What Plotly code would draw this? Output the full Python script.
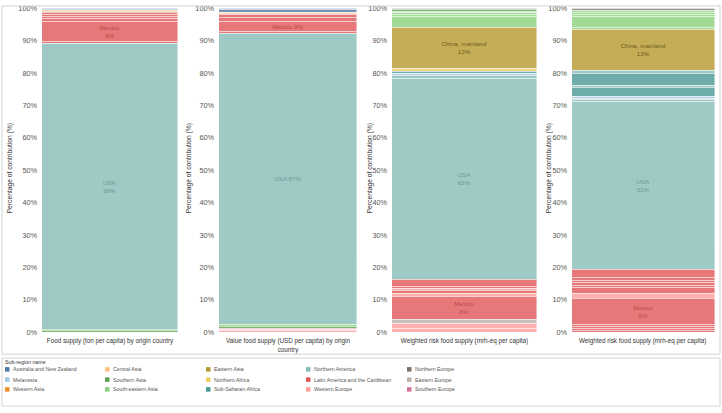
import plotly.graph_objects as go

W, H = 722, 413

# ---------------- data ----------------
regions = [
    "Australia and New Zealand", "Central Asia", "Eastern Asia", "Northern America", "Northern Europe",
    "Melanesia", "Southern Asia", "Northern Africa", "Latin America and the Caribbean", "Eastern Europe",
    "Western Asia", "South-eastern Asia", "Sub-Saharan Africa", "Western Europe", "Southern Europe",
]
region_colors = [
    "#4E79A7", "#FFBE7D", "#B6992D", "#86BCB6", "#79706E",
    "#A0CBE8", "#59A14F", "#F1CE63", "#E15759", "#BAB0AC",
    "#F28E2B", "#8CD17D", "#499894", "#FF9D9A", "#D37295",
]
label_colors = {
    "Northern America": "#6A9C97",
    "Latin America and the Caribbean": "#B9484A",
    "Eastern Asia": "#6E5C1C",
}

panel_titles = [
    "Food supply (ton per capita) by origin country",
    "Value food supply (USD per capita) by origin<br>country",
    "Weighted risk food supply (mrh-eq per capita)",
    "Weighted risk food supply (mrh-eq per capita) ",
]
y_ticks = list(range(0, 101, 10))
y_tick_text = [f"{t}%" for t in y_ticks]

# panel 1 (bottom -> top)
p1_countries = ["India", "Pakistan", "USA", "Guatemala", "Mexico", "Chile", "Peru", "Costa Rica",
                "Honduras", "China, mainland", "Turkey", "Australia", "New Zealand"]
p1_regions = ["Southern Asia", "Southern Asia", "Northern America", "Latin America and the Caribbean",
              "Latin America and the Caribbean", "Latin America and the Caribbean",
              "Latin America and the Caribbean", "Latin America and the Caribbean",
              "Latin America and the Caribbean", "Eastern Asia", "Western Asia",
              "Australia and New Zealand", "Australia and New Zealand"]
p1_values = [0.5, 0.4, 88.4, 0.4, 6.4, 0.8, 0.7, 0.6, 0.5, 0.4, 0.3, 0.3, 0.3]
p1_labels = {"USA": 88, "Mexico": 9}

# panel 2
p2_countries = ["Netherlands", "Spain", "Italy", "India", "Thailand", "USA", "Guatemala", "Mexico",
                "Chile", "Peru", "Turkey", "Uzbekistan", "Australia", "New Zealand"]
p2_regions = ["Western Europe", "Western Europe", "Southern Europe", "Southern Asia", "South-eastern Asia",
              "Northern America", "Latin America and the Caribbean", "Latin America and the Caribbean",
              "Latin America and the Caribbean", "Latin America and the Caribbean", "Western Asia",
              "Central Asia", "Australia and New Zealand", "Australia and New Zealand"]
p2_values = [0.6, 0.4, 0.3, 0.5, 0.6, 89.8, 0.6, 3.3, 1.0, 0.9, 0.5, 0.3, 0.9, 0.3]
p2_labels = {"USA": 87, "Mexico": 3}

# panel 3
p3_countries = ["Netherlands", "France", "Poland", "Mexico", "Belgium", "Peru", "Germany", "Ecuador",
                "Chile", "USA", "Canada", "Fiji", "South Africa", "Morocco", "China, mainland",
                "Viet Nam", "Thailand", "Indonesia", "Philippines", "India", "Norway"]
p3_regions = ["Western Europe", "Western Europe", "Eastern Europe", "Latin America and the Caribbean",
              "Western Europe", "Latin America and the Caribbean", "Western Europe",
              "Latin America and the Caribbean", "Latin America and the Caribbean", "Northern America",
              "Northern America", "Melanesia", "Sub-Saharan Africa", "Northern Africa", "Eastern Asia",
              "South-eastern Asia", "South-eastern Asia", "South-eastern Asia", "South-eastern Asia",
              "Southern Asia", "Northern Europe"]
p3_values = [1.2, 1.4, 1.2, 7.4, 0.7, 1.0, 0.5, 0.6, 2.3, 62.1, 1.0, 0.6, 0.6, 0.9, 12.7,
             3.2, 0.7, 0.6, 0.5, 0.4, 0.4]
p3_labels = {"USA": 62, "Mexico": 8, "China, mainland": 13}

# panel 4
p4_countries = ["Guatemala", "Honduras", "Costa Rica", "Nicaragua", "Mexico", "Netherlands", "Peru",
                "Ecuador", "Colombia", "Brazil", "Argentina", "Chile", "USA", "Canada", "Greenland",
                "Fiji", "Kenya", "Bermuda", "South Africa", "Saint Pierre", "China, mainland",
                "Malaysia", "Viet Nam", "Thailand", "Indonesia", "Philippines", "Norway"]
p4_regions = ["Latin America and the Caribbean"] * 5 + ["Western Europe"] + \
             ["Latin America and the Caribbean"] * 6 + \
             ["Northern America", "Northern America", "Northern America", "Melanesia",
              "Sub-Saharan Africa", "Northern America", "Sub-Saharan Africa", "Northern America",
              "Eastern Asia", "South-eastern Asia", "South-eastern Asia", "South-eastern Asia",
              "South-eastern Asia", "South-eastern Asia", "Northern Europe"]
p4_values = [0.7, 0.6, 0.6, 0.6, 8.0, 1.4, 1.8, 0.8, 0.8, 0.8, 0.8, 2.5, 51.9, 0.5, 0.5, 0.6,
             2.6, 0.6, 3.7, 1.0, 12.6, 0.7, 3.4, 0.7, 0.7, 0.6, 0.5]
p4_labels = {"USA": 51, "Mexico": 6, "China, mainland": 13}

panels = [
    (p1_countries, p1_regions, p1_values, p1_labels, "<br>"),
    (p2_countries, p2_regions, p2_values, p2_labels, " "),
    (p3_countries, p3_regions, p3_values, p3_labels, "<br>"),
    (p4_countries, p4_regions, p4_values, p4_labels, "<br>"),
]

# ---------------- layout geometry (pixels) ----------------
FONT = "Arial, 'Liberation Sans', sans-serif"
x_px = [(42, 178), (219, 357), (392, 537), (572, 715)]
ytitle_px = [10, 189, 370, 549]
y_top, y_bot = 4.5, 335.5

color_of = dict(zip(regions, region_colors))

fig = go.Figure()
for i, (countries, regs, vals, labels, sep) in enumerate(panels):
    ax = "" if i == 0 else str(i + 1)
    for c, r, v in zip(countries, regs, vals):
        txt = f"{c}{sep}{labels[c]}%" if c in labels else ""
        fig.add_trace(go.Bar(
            x=[panel_titles[i]], y=[v], xaxis="x" + ax, yaxis="y" + ax,
            name=c, showlegend=False,
            marker=dict(color=color_of[r], opacity=0.8, line=dict(color="white", width=0.45)),
            text=[txt], textposition="inside", insidetextanchor="middle", textangle=0,
            textfont=dict(size=6.2, color=label_colors.get(r, "#555"), family=FONT),
            hovertemplate=f"{c} ({r}): %{{y}}%<extra></extra>",
        ))

layout = dict(
    width=W, height=H, margin=dict(l=0, r=0, t=0, b=0),
    paper_bgcolor="white", plot_bgcolor="white",
    barmode="stack", bargap=0,
    font=dict(family=FONT, size=7, color="#555"),
    uniformtext=dict(minsize=6, mode="show"),
    showlegend=False,
)
annotations, shapes = [], []
for i in range(4):
    ax = "" if i == 0 else str(i + 1)
    x0, x1 = x_px[i]
    layout["xaxis" + ax] = dict(
        domain=[x0 / W, x1 / W], anchor="y" + ax, showgrid=False, zeroline=False,
        showline=False, ticks="", tickfont=dict(size=6.3, color="#333"), fixedrange=True,
        ticklabelstandoff=4,
    )
    layout["yaxis" + ax] = dict(
        domain=[1 - y_bot / H, 1 - y_top / H], anchor="x" + ax, range=[0, 100],
        tickmode="array", tickvals=y_ticks, ticktext=y_tick_text,
        showgrid=False, zeroline=False, ticklabelstandoff=4,
        showline=False, ticks="", tickfont=dict(size=7.3, color="#555"), fixedrange=True,
    )
    annotations.append(dict(
        text="Percentage of contribution (%)", x=ytitle_px[i] / W, y=1 - 168 / H,
        xref="paper", yref="paper", textangle=-90, showarrow=False,
        font=dict(size=6.7, color="#333"), xanchor="center", yanchor="middle",
    ))

# borders
shapes.append(dict(type="rect", xref="paper", yref="paper", x0=2 / W, x1=720 / W,
                   y0=1 - 358 / H, y1=1 - 2 / H, line=dict(color="#D4D4D4", width=1)))
shapes.append(dict(type="rect", xref="paper", yref="paper", x0=2 / W, x1=720 / W,
                   y0=1 - 411 / H, y1=1 - 362 / H, line=dict(color="#D4D4D4", width=1)))

# legend (manual grid, 5 columns x 3 rows)
annotations.append(dict(text="Sub-region name", x=3 / W, y=1 - 366 / H, xref="paper", yref="paper",
                        showarrow=False, xanchor="left", yanchor="middle",
                        font=dict(size=5.3, color="#333")))
col_x = [5, 105, 206, 306, 407]
row_y = [373.5, 384, 394]
for k, (r, col) in enumerate(zip(regions, region_colors)):
    cx, ry = col_x[k % 5], row_y[k // 5]
    shapes.append(dict(type="rect", xref="paper", yref="paper", x0=cx / W, x1=(cx + 4.5) / W,
                       y0=1 - (ry + 2.3) / H, y1=1 - (ry - 2.3) / H, fillcolor=col,
                       line=dict(width=0)))
    annotations.append(dict(text=r, x=(cx + 6) / W, y=1 - ry / H, xref="paper", yref="paper",
                            showarrow=False, xanchor="left", yanchor="middle",
                            font=dict(size=5.3, color="#555")))

layout["annotations"] = annotations
layout["shapes"] = shapes
fig.update_layout(**layout)
fig.write_html("out.html", config={"displayModeBar": False},
               post_script="document.body.style.margin='0';document.body.style.overflow='hidden';")
